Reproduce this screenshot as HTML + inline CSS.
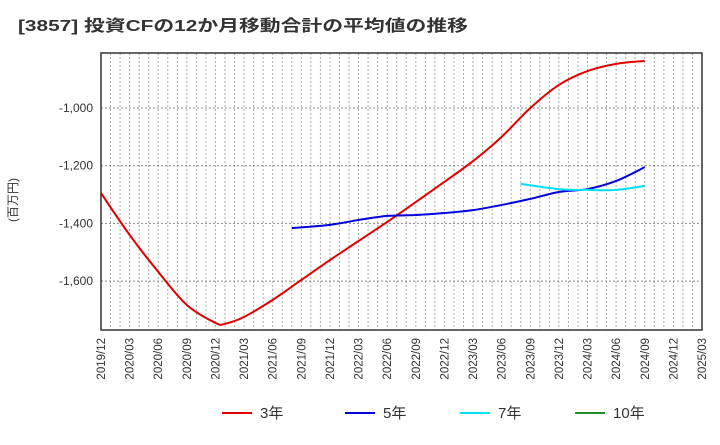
<!DOCTYPE html>
<html><head><meta charset="utf-8"><style>
body{margin:0;background:#fff;font-family:"Liberation Sans","Noto Sans CJK JP",sans-serif;}
</style></head><body>
<svg id="c" width="720" height="440" xmlns="http://www.w3.org/2000/svg">
<text x="18" y="31" font-size="16" font-weight="bold" fill="#333" textLength="450" lengthAdjust="spacingAndGlyphs">[3857]  投資CFの12か月移動合計の平均値の推移</text>
<text transform="translate(17,200) rotate(-90)" font-size="12" fill="#333" text-anchor="middle">(百万円)</text>
<g id="grid"></g><g id="series"></g><g id="axes"></g>
</svg>
<script>
const yTicks=[-1000,-1200,-1400,-1600];
const xLabels=["2019/12","2020/03","2020/06","2020/09","2020/12","2021/03","2021/06","2021/09","2021/12","2022/03","2022/06","2022/09","2022/12","2023/03","2023/06","2023/09","2023/12","2024/03","2024/06","2024/09","2024/12","2025/03"];
const s3Months=[0,3,6,9,12,13,15,18,21,24,27,30,33,36,39,42,45,48,51,54,57];
const s3Vals=[-1295,-1440,-1568,-1683,-1745,-1748,-1724,-1665,-1596,-1527,-1461,-1395,-1326,-1256,-1184,-1100,-1000,-920,-872,-847,-837];
const s5Months=[20,24,27,30,33,36,39,42,45,48,51,54,57];
const s5Vals=[-1416,-1405,-1388,-1374,-1371,-1364,-1354,-1336,-1315,-1291,-1281,-1253,-1205];
const s7Months=[44,48,51,54,57];
const s7Vals=[-1263,-1281,-1284,-1284,-1270];
const L=101,R=702,T=53,B=330,NM=63;
const X=m=>L+m*(R-L)/NM;
const Y=v=>108+(-1000-v)/200*57.7;
const ns="http://www.w3.org/2000/svg";
function mk(tag,attrs,parent){const e=document.createElementNS(ns,tag);for(const k in attrs)e.setAttribute(k,attrs[k]);parent.appendChild(e);return e;}
const grid=document.getElementById('grid'),axes=document.getElementById('axes'),series=document.getElementById('series');
for(let m=1;m<NM;m++){const g=mk('line',{x1:X(m),x2:X(m),y1:T,y2:B,stroke:'#aaa','stroke-dasharray':'2,2','stroke-width':1},grid);

}
yTicks.forEach(v=>{const g=mk('line',{x1:L,x2:R,y1:Y(v),y2:Y(v),stroke:'#888','stroke-dasharray':'2,2','stroke-width':1},grid);


const t=mk('text',{x:L-8,y:Y(v)+4,'font-size':12,'text-anchor':'end',fill:'#333'},axes);
t.textContent=v.toLocaleString('en-US');

});
const fr=mk('rect',{x:L,y:T,width:R-L,height:B-T,fill:'none',stroke:'#333','stroke-width':1.5},axes);


xLabels.forEach((s,i)=>{const x=X(i*3);const t=mk('text',{transform:`translate(${x+4},${B+8}) rotate(-90)`,'font-size':11.5,'text-anchor':'end',fill:'#333'},axes);
t.textContent=s;

});
function path(ms,vs,color,name){const p=ms.map((m,i)=>[X(m),Y(vs[i])]);let d=`M${p[0][0]},${p[0][1]}`;
for(let i=0;i<p.length-1;i++){const p0=p[i-1]||p[i],p1=p[i],p2=p[i+1],p3=p[i+2]||p2;
d+=` C${p1[0]+(p2[0]-p0[0])/6},${p1[1]+(p2[1]-p0[1])/6} ${p2[0]-(p3[0]-p1[0])/6},${p2[1]-(p3[1]-p1[1])/6} ${p2[0]},${p2[1]}`;}
const e=mk('path',{d,fill:'none',stroke:color,'stroke-width':2},series);

}
path(s3Months,s3Vals,'#e00000','series-3yr-line');
path(s5Months,s5Vals,'#0000dd','series-5yr-line');
path(s7Months,s7Vals,'#00e0f0','series-7yr-line');
const leg=[['3年','#e00000',222],['5年','#0000dd',345],['7年','#00e0f0',460],['10年','#228b22',575]];
leg.forEach(([n,c,x])=>{const g=mk('g',{},axes);


mk('line',{x1:x,x2:x+30,y1:413,y2:413,stroke:c,'stroke-width':2},g);
const t=mk('text',{x:x+38,y:418,'font-size':15,fill:'#333'},g);t.textContent=n;});
</script>
</body></html>
